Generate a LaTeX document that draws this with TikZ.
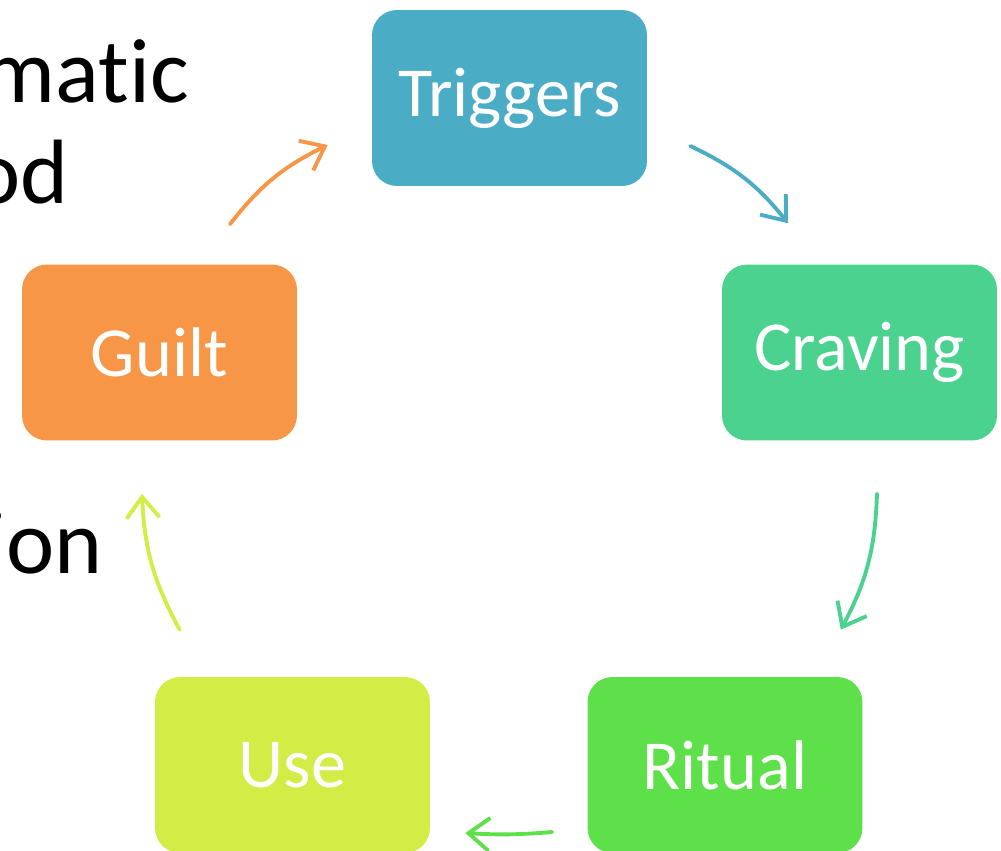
\documentclass[tikz,border=0pt]{standalone}
\usepackage{fontspec}
\setmainfont[Ligatures={NoCommon}]{Carlito}
\usetikzlibrary{arrows.meta}
\definecolor{trigcol}{HTML}{4BACC6}
\definecolor{cravcol}{HTML}{4AD28E}
\definecolor{ritcol}{HTML}{5EE04A}
\definecolor{usecol}{HTML}{D4EC46}
\definecolor{guiltcol}{HTML}{F79646}
\begin{document}
\begin{tikzpicture}[x=0.02cm,y=-0.02cm]
    \tikzset{
      stage/.style args={#1}{fill=#1,draw=none,rounded corners=0.5cm,
        minimum width=5.5cm,minimum height=3.52cm,inner sep=0mm,
        text=white,font=\fontsize{40}{48}\selectfont},
    }
    \tikzset{
      cyc/.style args={#1}{draw=#1,line width=2.2pt,line cap=round,
        -{Straight Barb[length=4.2mm,width=6.6mm,line width=2.2pt]}},
    }
    \tikzset{
      slide/.style={anchor=base east,inner sep=0mm,font=\fontsize{52}{62}\selectfont},
    }
        \useasboundingbox (0,0) rectangle (1001,850);

        %SLIDE TEXT
        \node[slide] (matic) at (189,102) {matic};
        \node[slide] (od) at (69,203) {od};
        \node[slide] (ion) at (103,573) {ion};

        %STAGES
        \node[stage={trigcol}] (triggers) at (509.5,98) {Triggers};
        \node[stage={cravcol}] (craving) at (859.5,352.5) {Craving};
        \node[stage={ritcol}] (ritual) at (725,765) {Ritual};
        \node[stage={usecol}] (use) at (292.5,765) {Use};
        \node[stage={guiltcol}] (guilt) at (159.5,352.5) {Guilt};

        %CYCLE
        \draw[cyc={guiltcol}] ([shift={(70.5,-40)}]guilt.north) to[bend left=13] ([shift={(-44,47)}]triggers.west);
        \draw[cyc={trigcol}] ([shift={(43,48)}]triggers.east) to[bend left=13] ([shift={(-71.5,-41)}]craving.north);
        \draw[cyc={cravcol}] ([shift={(17.5,53)}]craving.south) to[bend left=13] ([shift={(-22,-47)}]ritual.north east);
        \draw[cyc={ritcol}] ([shift={(-35,67)}]ritual.west) to[bend left=4] ([shift={(35,68)}]use.east);
        \draw[cyc={usecol}] ([shift={(25,-47)}]use.north west) to[bend left=13] ([shift={(-17.5,53)}]guilt.south);
    \end{tikzpicture}
\end{document}
